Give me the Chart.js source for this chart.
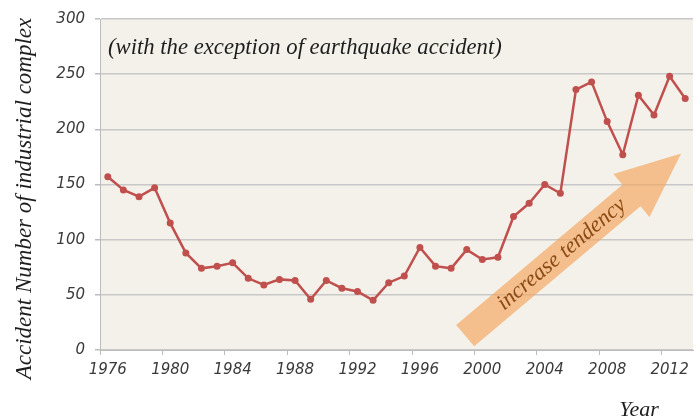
<!DOCTYPE html>
<html>
<head>
<meta charset="utf-8">
<title>Accident Number of industrial complex</title>
<script src="https://cdn.jsdelivr.net/npm/chart.js@4.4.1/dist/chart.umd.min.js"></script>
<style>
  html, body { margin: 0; padding: 0; background: #ffffff; }
  #wrap { width: 700px; height: 420px; }
</style>
</head>
<body>
<div id="wrap"><canvas id="accidentChart" width="700" height="420"></canvas></div>
<script>
// years on the x axis (one point per year)
const years = [1976, 1977, 1978, 1979, 1980, 1981, 1982, 1983, 1984, 1985,
               1986, 1987, 1988, 1989, 1990, 1991, 1992, 1993, 1994, 1995,
               1996, 1997, 1998, 1999, 2000, 2001, 2002, 2003, 2004, 2005,
               2006, 2007, 2008, 2009, 2010, 2011, 2012, 2013];

// accident counts
const accidents = [157, 145, 139, 147, 115, 88, 74, 76, 79, 65,
                   59, 64, 63, 46, 63, 56, 53, 45, 61, 67,
                   93, 76, 74, 91, 82, 84, 121, 133, 150, 142,
                   236, 243, 207, 177, 231, 213, 248, 228];

// which years get a label on the x axis
const tickYears = [1976, 1980, 1984, 1988, 1992, 1996, 2000, 2004, 2008, 2012];

// y axis ticks
const yTicks = [0, 50, 100, 150, 200, 250, 300];

// texts
const yTitle = 'Accident Number of industrial complex';
const xTitle = 'Year';
const noteText = '(with the exception of earthquake accident)';
const arrowText = 'increase tendency';

// arrow ends, in chart values (category index, accidents)
const arrowFrom = { x: 22.9, y: 13 };
const arrowTo = { x: 36.74, y: 178 };

const serifItalic = size => 'italic ' + size + 'px "Liberation Serif", "DejaVu Serif", serif';

// paints the beige plot area
const plotBackground = {
  id: 'plotBackground',
  beforeDraw(chart) {
    const { ctx, chartArea: a } = chart;
    ctx.save();
    ctx.fillStyle = '#f3f1ea';
    ctx.fillRect(a.left, a.top, a.right - a.left, a.bottom - a.top);
    ctx.restore();
  }
};

// the big orange arrow with its label
const tendencyArrow = {
  id: 'tendencyArrow',
  afterDatasetsDraw(chart) {
    const { ctx, scales: { x, y } } = chart;
    const x0 = x.getPixelForValue(arrowFrom.x), y0 = y.getPixelForValue(arrowFrom.y);
    const x1 = x.getPixelForValue(arrowTo.x), y1 = y.getPixelForValue(arrowTo.y);
    const len = Math.hypot(x1 - x0, y1 - y0);
    const ux = (x1 - x0) / len, uy = (y1 - y0) / len;
    const nx = -uy, ny = ux;
    const shaft = 14, head = 28, headLen = 65;
    const bx = x1 - ux * headLen, by = y1 - uy * headLen;

    ctx.save();
    ctx.fillStyle = 'rgba(245, 165, 90, 0.65)';
    ctx.beginPath();
    ctx.moveTo(x0 + nx * shaft, y0 + ny * shaft);
    ctx.lineTo(bx + nx * shaft, by + ny * shaft);
    ctx.lineTo(bx + nx * head, by + ny * head);
    ctx.lineTo(x1, y1);
    ctx.lineTo(bx - nx * head, by - ny * head);
    ctx.lineTo(bx - nx * shaft, by - ny * shaft);
    ctx.lineTo(x0 - nx * shaft, y0 - ny * shaft);
    ctx.closePath();
    ctx.fill();

    // label along the shaft
    const mx = x0 + (x1 - x0) * 0.447, my = y0 + (y1 - y0) * 0.447;
    ctx.translate(mx, my);
    ctx.rotate(Math.atan2(y1 - y0, x1 - x0));
    ctx.fillStyle = '#8a4a14';
    ctx.font = serifItalic(22.5);
    ctx.textAlign = 'center';
    ctx.textBaseline = 'middle';
    ctx.fillText(arrowText, 0, 0);
    ctx.restore();
  }
};

// note, axis titles
const chartTexts = {
  id: 'chartTexts',
  afterDraw(chart) {
    const { ctx, chartArea: a } = chart;
    ctx.save();
    ctx.fillStyle = '#1e1e1e';
    ctx.font = serifItalic(22.7);
    ctx.textBaseline = 'middle';
    ctx.textAlign = 'left';
    ctx.fillText(noteText, a.left + 8, a.top + 29);

    ctx.font = serifItalic(22);
    ctx.textAlign = 'center';
    ctx.fillText(xTitle, 639, 410);

    ctx.translate(25, (a.top + a.bottom) / 2 + 14);
    ctx.rotate(-Math.PI / 2);
    ctx.font = serifItalic(23);
    ctx.fillText(yTitle, 0, 0);
    ctx.restore();
  }
};

const isLabelled = i => tickYears.includes(years[i]);

const config = {
  type: 'line',
  data: {
    labels: years,
    datasets: [{
      label: 'Accidents',
      data: accidents,
      borderColor: '#c0504d',
      backgroundColor: '#c0504d',
      borderWidth: 2.5,
      pointRadius: 3.5,
      pointBackgroundColor: '#c0504d',
      pointBorderWidth: 0,
      tension: 0
    }]
  },
  options: {
    responsive: false,
    animation: false,
    devicePixelRatio: 1,
    layout: { padding: { top: 18, right: 7, left: 0, bottom: 0 } },
    plugins: {
      legend: { display: false },
      tooltip: { enabled: false }
    },
    scales: {
      x: {
        type: 'category',
        offset: true,
        grid: {
          offset: true,
          drawOnChartArea: false,
          tickLength: 5,
          color: ctx => (isLabelled(ctx.index) ? '#bcbcbc' : 'rgba(0,0,0,0)')
        },
        border: { color: '#bcbcbc' },
        ticks: {
          autoSkip: false,
          maxRotation: 0,
          padding: 6,
          color: '#3a3a3a',
          font: { family: '"DejaVu Sans", Verdana, sans-serif', style: 'italic', size: 15 },
          callback: function (v, i) { return isLabelled(i) ? String(years[i]) : ''; }
        },
        afterFit: s => { s.height = 70; }
      },
      y: {
        min: 0,
        max: 300,
        afterBuildTicks: s => { s.ticks = yTicks.map(v => ({ value: v })); },
        grid: { color: '#c8c8c8', lineWidth: 1.5, tickLength: 5, tickColor: '#bcbcbc' },
        border: { color: '#bcbcbc' },
        ticks: {
          padding: 10,
          color: '#3a3a3a',
          font: { family: '"DejaVu Sans", Verdana, sans-serif', style: 'italic', size: 15 }
        },
        afterFit: s => { s.width = 100; }
      }
    }
  },
  plugins: [plotBackground, tendencyArrow, chartTexts]
};

const chart = new Chart(document.getElementById('accidentChart').getContext('2d'), config);
</script>
</body>
</html>
